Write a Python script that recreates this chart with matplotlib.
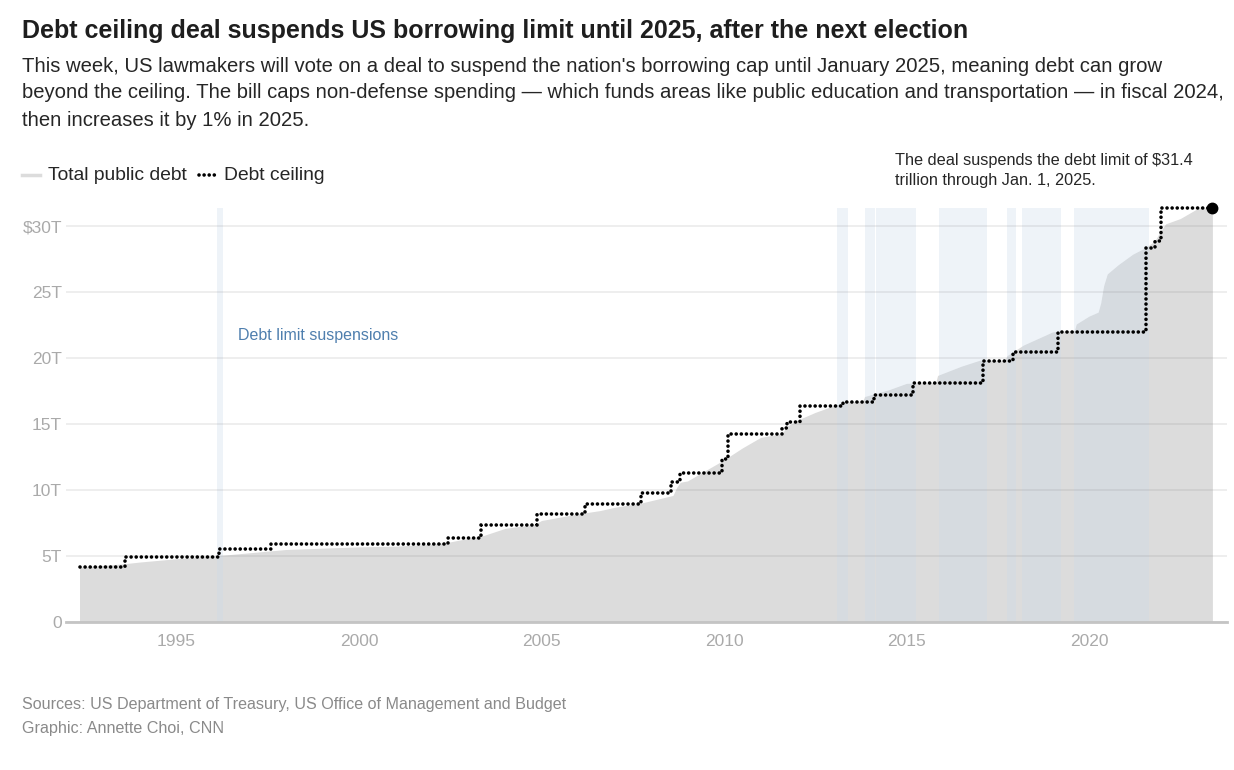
import matplotlib
matplotlib.use('Agg')
import matplotlib.pyplot as plt
from matplotlib.lines import Line2D

plt.rcParams['font.family'] = ['Liberation Sans', 'DejaVu Sans']

# total public debt, trillions
debt_years = [1992.34, 1993.0, 1993.5, 1994.0, 1995.0, 1996.0, 1997.0, 1997.6, 1998.0, 1999.0,
              2000.0, 2001.0, 2002.0, 2002.45, 2003.0, 2003.4, 2004.0, 2004.8, 2005.0, 2006.0,
              2006.6, 2007.0, 2007.7, 2008.0, 2008.6, 2008.7, 2008.8, 2009.0, 2009.5, 2010.0,
              2010.5, 2011.0, 2011.6, 2011.7, 2012.0, 2012.5, 2013.0, 2013.4, 2013.8, 2013.85,
              2014.5, 2015.0, 2015.8, 2015.85, 2016.5, 2017.0, 2017.7, 2017.75, 2018.2, 2019.0,
              2019.2, 2019.6, 2019.65, 2020.0, 2020.25, 2020.32, 2020.4, 2020.5, 2020.8, 2021.2,
              2021.55, 2021.8, 2021.95, 2022.1, 2022.5, 2022.75, 2023.0, 2023.38]
debt_vals = [4.15, 4.3, 4.4, 4.55, 4.8, 5.0, 5.25, 5.4, 5.5, 5.6,
             5.7, 5.75, 5.9, 6.05, 6.35, 6.55, 7.1, 7.4, 7.7, 8.2,
             8.45, 8.7, 9.0, 9.2, 9.6, 10.2, 10.6, 10.7, 11.5, 12.3,
             13.2, 14.0, 14.3, 14.8, 15.3, 15.9, 16.4, 16.7, 16.75, 17.1,
             17.6, 18.1, 18.15, 18.7, 19.4, 19.85, 19.85, 20.2, 21.0, 22.0,
             22.05, 22.1, 22.6, 23.2, 23.5, 24.2, 25.5, 26.4, 27.1, 27.9,
             28.4, 28.9, 29.6, 30.2, 30.6, 31.0, 31.4, 31.4]

# debt ceiling changes
ceil_years = [1992.34, 1993.6, 1996.15, 1997.6, 2002.45, 2003.35, 2004.87, 2006.2, 2007.72,
              2008.55, 2008.8, 2009.95, 2010.12, 2011.59, 2011.72, 2012.07, 2013.25, 2014.1,
              2015.17, 2017.1, 2017.92, 2019.15, 2021.56, 2021.8, 2021.97, 2023.38]
ceil_vals = [4.145, 4.9, 5.5, 5.95, 6.4, 7.384, 8.184, 8.965, 9.815,
             10.615, 11.315, 12.394, 14.294, 14.694, 15.194, 16.394, 16.699, 17.212,
             18.113, 19.809, 20.456, 21.988, 28.401, 28.881, 31.381, 31.381]

# debt limit suspension periods
susp_start = [1996.12, 2013.1, 2013.85, 2014.16, 2015.88, 2017.74, 2018.15, 2019.6]
susp_end = [1996.26, 2013.4, 2014.13, 2015.25, 2017.21, 2017.99, 2019.22, 2021.63]

x_ticks = [1995, 2000, 2005, 2010, 2015, 2020]
y_ticks = [0, 5, 10, 15, 20, 25, 30]
y_labels = ['0', '5T', '10T', '15T', '20T', '25T', '$30T']

DOTS = (0, (0.01, 1.4))

fig = plt.figure(figsize=(12.34, 7.7), dpi=100)
ax = fig.add_axes([66 / 1234, 1 - 622 / 770, (1227 - 66) / 1234, (622 - 208) / 770])

ax.fill_between(debt_years, debt_vals, 0, color='#dcdcdc', lw=0, zorder=1)
for s, e in zip(susp_start, susp_end):
    ax.axvspan(s, e, color=(201 / 255, 217 / 255, 233 / 255), alpha=0.31, lw=0, zorder=2)

ax.plot(ceil_years, ceil_vals, drawstyle='steps-post', color='black', lw=2.6,
        linestyle=DOTS, dash_capstyle='round', zorder=4, clip_on=False)
ax.plot([ceil_years[-1]], [ceil_vals[-1]], 'o', color='black', ms=7.5, zorder=5, clip_on=False)

ax.set_xlim(1991.97, 2023.78)
ax.set_ylim(0, 31.4)
ax.set_xticks(x_ticks)
ax.set_yticks(y_ticks)
ax.set_yticklabels(y_labels)
ax.grid(axis='y', color='#808080', alpha=0.16, lw=1.2, zorder=3)
ax.set_axisbelow(False)
for sp in ['top', 'right', 'left']:
    ax.spines[sp].set_visible(False)
ax.spines['bottom'].set_color('#c4c4c4')
ax.spines['bottom'].set_linewidth(2)
ax.spines['bottom'].set_zorder(6)
ax.tick_params(axis='both', length=0, labelsize=12.5, labelcolor='#aaaaaa')
ax.tick_params(axis='x', pad=9)
ax.tick_params(axis='y', pad=3)

ax.text(1996.67, 21.7, 'Debt limit suspensions', color='#4f7fae', fontsize=11.5, va='center')

fig.text(22 / 1234, 1 - 31 / 770, 'Debt ceiling deal suspends US borrowing limit until 2025, after the next election',
         fontsize=18, fontweight='bold', color='#1e1e1e', va='center')
sub_lines = ["This week, US lawmakers will vote on a deal to suspend the nation's borrowing cap until January 2025, meaning debt can grow",
             "beyond the ceiling. The bill caps non-defense spending \u2014 which funds areas like public education and transportation \u2014 in fiscal 2024,",
             "then increases it by 1% in 2025."]
for i, line in enumerate(sub_lines):
    fig.text(22 / 1234, 1 - (66 + 27 * i) / 770, line, fontsize=14.55, color='#262626', va='center')

# legend
fig.add_artist(Line2D([22 / 1234, 40 / 1234], [1 - 175 / 770] * 2, color='#dcdcdc', lw=2.5))
fig.text(48 / 1234, 1 - 175 / 770, 'Total public debt', fontsize=13.9, color='#262626', va='center')
fig.add_artist(Line2D([199 / 1234, 216 / 1234], [1 - 175 / 770] * 2, color='black', lw=2.6,
                      linestyle=DOTS, dash_capstyle='round'))
fig.text(224 / 1234, 1 - 175 / 770, 'Debt ceiling', fontsize=13.9, color='#262626', va='center')

fig.text(895 / 1234, 1 - 160 / 770, 'The deal suspends the debt limit of $31.4',
         fontsize=11.7, color='#262626', va='center')
fig.text(895 / 1234, 1 - 181 / 770, 'trillion through Jan. 1, 2025.',
         fontsize=11.7, color='#262626', va='center')

fig.text(22 / 1234, 1 - 705 / 770, 'Sources: US Department of Treasury, US Office of Management and Budget',
         fontsize=11.6, color='#8a8a8a', va='center')
fig.text(22 / 1234, 1 - 728 / 770, 'Graphic: Annette Choi, CNN', fontsize=11.6, color='#8a8a8a', va='center')

fig.savefig('out.png', dpi=100)
